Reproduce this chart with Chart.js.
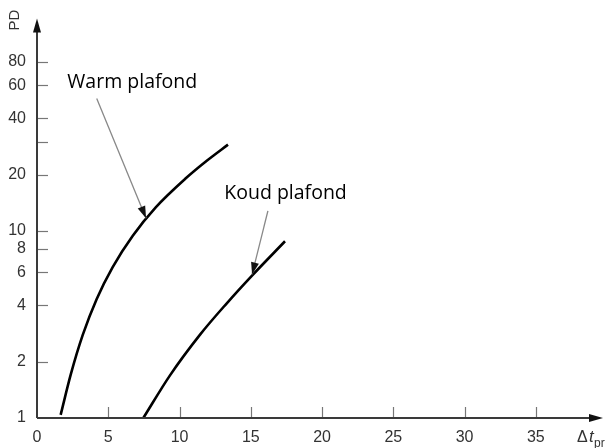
<!DOCTYPE html>
<html>
<head>
<meta charset="utf-8">
<script src="https://cdn.jsdelivr.net/npm/chart.js@4"></script>
<style>
  html, body { margin: 0; padding: 0; background: #fff; }
  #wrap { width: 609px; height: 448px; }
</style>
</head>
<body>
<div id="wrap"><canvas id="pdChart"></canvas></div>
<script>
// curves: [dt, PD]
const warmX = [1.66, 2.37, 3.21, 4.19, 5.31, 6.72, 8.33, 10.44, 11.91, 13.4];
const warmY = [1.04, 1.71, 2.78, 4.33, 6.41, 9.43, 13.36, 19.1, 23.7, 28.9];
const coldX = [7.46, 9.33, 11.44, 13.3, 15.07, 17.4];
const coldY = [1.0, 1.69, 2.79, 4.09, 5.75, 8.8];

const xTicks = [0, 5, 10, 15, 20, 25, 30, 35];
const yTicks = [1, 2, 4, 6, 8, 10, 20, 30, 40, 60, 80];
const yUnlabeled = [30];

// labels with arrow: text anchor (left, baseline), arrow start, arrow tip (data coords)
const notes = [
  { text: 'Warm plafond', at: [2.13, 58], from: [4.19, 51], to: [7.65, 11.7] },
  { text: 'Koud plafond', at: [13.14, 14.77], from: [16.2, 12.8], to: [15.09, 5.85] }
];

const toPts = (xs, ys) => xs.map((x, i) => ({ x: x, y: ys[i] }));

const axisColor = '#3a3a3a';
const labelFont = { family: "'Liberation Sans', Arial, sans-serif", size: 16 };

function arrowHead(ctx, x, y, angle, len, half) {
  ctx.save();
  ctx.translate(x, y);
  ctx.rotate(angle);
  ctx.beginPath();
  ctx.moveTo(0, 0);
  ctx.lineTo(-len, -half);
  ctx.lineTo(-len, half);
  ctx.closePath();
  ctx.fill();
  ctx.restore();
}

const decorations = {
  id: 'decorations',
  afterDraw(chart) {
    const ctx = chart.ctx;
    const xs = chart.scales.x, ys = chart.scales.y;
    const area = chart.chartArea;
    ctx.save();

    // tick marks pointing inward
    ctx.strokeStyle = '#777';
    ctx.lineWidth = 1.2;
    yTicks.forEach(v => {
      if (v === 1) return;
      const py = Math.round(ys.getPixelForValue(v)) + 0.5;
      ctx.beginPath();
      ctx.moveTo(area.left, py);
      ctx.lineTo(area.left + 11, py);
      ctx.stroke();
    });
    xTicks.forEach(v => {
      if (v === 0) return;
      const px = Math.round(xs.getPixelForValue(v)) + 0.5;
      ctx.beginPath();
      ctx.moveTo(px, area.bottom);
      ctx.lineTo(px, area.bottom - 11);
      ctx.stroke();
    });

    // axes with arrows
    ctx.strokeStyle = axisColor;
    ctx.fillStyle = '#111';
    ctx.lineWidth = 2;
    ctx.beginPath();
    ctx.moveTo(area.left, area.bottom);
    ctx.lineTo(area.left, area.top + 6);
    ctx.moveTo(area.left, area.bottom);
    ctx.lineTo(area.right - 6, area.bottom);
    ctx.stroke();
    arrowHead(ctx, area.left, area.top - 2, -Math.PI / 2, 14, 4);
    arrowHead(ctx, area.right + 3, area.bottom, 0, 14, 4);

    // axis titles
    ctx.fillStyle = '#333';
    ctx.font = "15px 'Liberation Sans', Arial, sans-serif";
    ctx.save();
    ctx.translate(15, 20);
    ctx.rotate(-Math.PI / 2);
    ctx.textAlign = 'center';
    ctx.textBaseline = 'middle';
    ctx.fillText('PD', 0, 0);
    ctx.restore();

    ctx.textBaseline = 'alphabetic';
    ctx.textAlign = 'left';
    ctx.font = "16px 'Liberation Sans', Arial, sans-serif";
    ctx.fillText('\u0394', 577, 442);
    ctx.font = "italic 17px 'Liberation Sans', Arial, sans-serif";
    ctx.fillText('t', 589, 442);
    ctx.font = "12px 'Liberation Sans', Arial, sans-serif";
    ctx.fillText('pr', 594, 447);

    // notes with arrows
    notes.forEach(n => {
      ctx.fillStyle = '#000';
      ctx.font = "19.5px 'Open Sans', sans-serif";
      ctx.textBaseline = 'alphabetic';
      ctx.fillText(n.text, xs.getPixelForValue(n.at[0]), ys.getPixelForValue(n.at[1]));
      const x1 = xs.getPixelForValue(n.from[0]), y1 = ys.getPixelForValue(n.from[1]);
      const x2 = xs.getPixelForValue(n.to[0]), y2 = ys.getPixelForValue(n.to[1]);
      ctx.strokeStyle = '#888';
      ctx.lineWidth = 1.3;
      ctx.beginPath();
      ctx.moveTo(x1, y1);
      ctx.lineTo(x2, y2);
      ctx.stroke();
      ctx.fillStyle = '#111';
      arrowHead(ctx, x2, y2, Math.atan2(y2 - y1, x2 - x1), 12, 4);
    });

    ctx.restore();
  }
};

new Chart(document.getElementById('pdChart'), {
  type: 'scatter',
  data: {
    datasets: [
      { label: 'Warm plafond', data: toPts(warmX, warmY) },
      { label: 'Koud plafond', data: toPts(coldX, coldY) }
    ]
  },
  options: {
    responsive: true,
    maintainAspectRatio: false,
    animation: false,
    showLine: true,
    layout: { padding: { top: 8, right: 9, left: 0, bottom: 0 } },
    elements: {
      line: { borderColor: '#000', borderWidth: 2.6, cubicInterpolationMode: 'monotone' },
      point: { radius: 0 }
    },
    plugins: { legend: { display: false }, tooltip: { enabled: false } },
    scales: {
      x: {
        type: 'linear',
        min: 0,
        max: 39.5,
        afterFit: s => { s.height = 30; },
        afterBuildTicks: s => { s.ticks = xTicks.map(v => ({ value: v })); },
        grid: { display: false, drawTicks: false },
        border: { display: false },
        ticks: { color: '#333', font: labelFont, padding: 10, maxRotation: 0 }
      },
      y: {
        type: 'logarithmic',
        min: 1,
        max: 133,
        afterFit: s => { s.width = 37; },
        afterBuildTicks: s => { s.ticks = yTicks.map(v => ({ value: v })); },
        grid: { display: false, drawTicks: false },
        border: { display: false },
        ticks: {
          color: '#333',
          font: labelFont,
          padding: 11,
          callback: v => yUnlabeled.includes(v) ? '' : String(v)
        }
      }
    }
  },
  plugins: [decorations]
});
</script>
</body>
</html>
